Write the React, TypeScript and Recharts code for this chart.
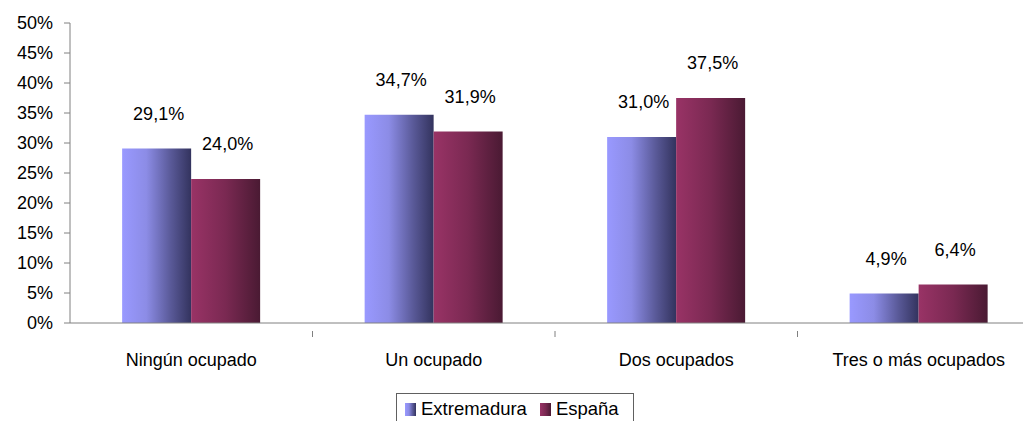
import { Bar, BarChart, LabelList, XAxis, YAxis } from "recharts";

const categories = ["Ningún ocupado", "Un ocupado", "Dos ocupados", "Tres o más ocupados"];
const extremadura = [29.1, 34.7, 31.0, 4.9];
const espana = [24.0, 31.9, 37.5, 6.4];
const yTicks = [0, 5, 10, 15, 20, 25, 30, 35, 40, 45, 50];

const series = [
  { key: "extremadura", name: "Extremadura", fill: "url(#gradExt)" },
  { key: "espana", name: "España", fill: "url(#gradEsp)" },
];

const data = categories.map((name, i) => ({
  name,
  extremadura: extremadura[i],
  espana: espana[i],
}));

const FONT = "'Liberation Sans', Arial, sans-serif";
const CHART_W = 1032;
const Y_AXIS_W = 62;
const BAND = (CHART_W - Y_AXIS_W) / categories.length;

const fmt = (v: number) => `${v.toFixed(1).replace(".", ",")}%`;

function CategoryTick({ x, y, payload, index }: any) {
  return (
    <g>
      {index > 0 && (
        <line x1={x - BAND / 2} x2={x - BAND / 2} y1={y} y2={y + 6} stroke="#808080" />
      )}
      <text x={x} y={y + 35} textAnchor="middle" fontSize={18} fontFamily={FONT} fill="#000">
        {payload.value}
      </text>
    </g>
  );
}

function TopLabel({ x, y, width, value }: any) {
  return (
    <text
      x={x + width / 2 + 2}
      y={y - 35}
      dy="0.355em"
      textAnchor="middle"
      fontSize={18}
      fontFamily={FONT}
      fill="#000"
    >
      {fmt(value)}
    </text>
  );
}

export default function App() {
  return (
    <div style={{ width: 1023, height: 415, overflow: "hidden", position: "relative" }}>
      <BarChart
        width={CHART_W}
        height={415}
        data={data}
        margin={{ top: 15, right: 0, bottom: 40, left: 0 }}
        barCategoryGap="21.5%"
        barGap={0}
      >
        <defs>
          <linearGradient id="gradExt" x1="0" y1="0" x2="1" y2="0">
            <stop offset="0%" stopColor="#9999ff" />
            <stop offset="35%" stopColor="#8c8ce6" />
            <stop offset="70%" stopColor="#5a5a99" />
            <stop offset="100%" stopColor="#33335e" />
          </linearGradient>
          <linearGradient id="gradEsp" x1="0" y1="0" x2="1" y2="0">
            <stop offset="0%" stopColor="#993366" />
            <stop offset="50%" stopColor="#7a2952" />
            <stop offset="100%" stopColor="#4a1a33" />
          </linearGradient>
        </defs>
        <XAxis
          dataKey="name"
          height={60}
          axisLine={{ stroke: "#808080" }}
          tickLine={false}
          tick={<CategoryTick />}
          interval={0}
        />
        <YAxis
          width={Y_AXIS_W}
          domain={[0, 50]}
          ticks={yTicks}
          tickFormatter={(v: number) => `${v}%`}
          axisLine={{ stroke: "#808080" }}
          tickLine={{ stroke: "#808080" }}
          tickSize={6}
          tickMargin={11}
          tick={{ fontSize: 18, fontFamily: FONT, fill: "#000" }}
          interval={0}
        />
        {series.map((s) => (
          <Bar key={s.key} dataKey={s.key} name={s.name} fill={s.fill} isAnimationActive={false}>
            <LabelList dataKey={s.key} content={<TopLabel />} />
          </Bar>
        ))}
      </BarChart>
      <div
        style={{
          position: "absolute",
          left: 388,
          top: 385,
          width: 238,
          height: 32,
          border: "1px solid #606060",
          display: "flex",
          alignItems: "center",
          fontFamily: FONT,
          fontSize: 18.5,
          boxSizing: "border-box",
          paddingLeft: 8,
        }}
      >
        {series.map((s, i) => (
          <span key={s.key} style={{ display: "flex", alignItems: "center", marginRight: i === 0 ? 13 : 0 }}>
            <svg width={11} height={13} style={{ marginRight: 5 }}>
              <rect width={11} height={13} fill={s.fill} />
            </svg>
            {s.name}
          </span>
        ))}
      </div>
    </div>
  );
}
